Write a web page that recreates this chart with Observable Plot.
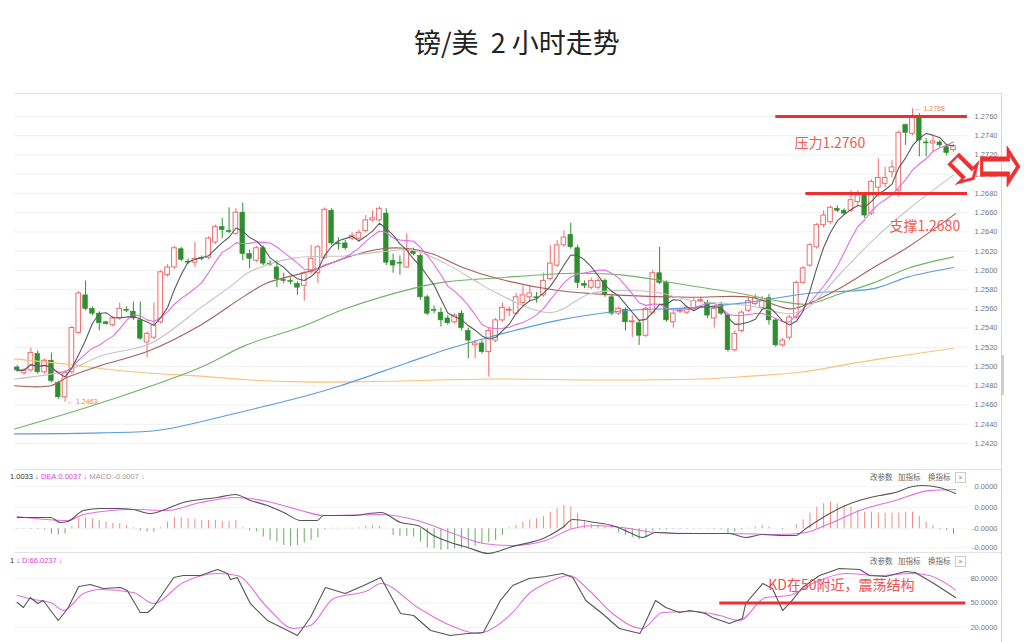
<!DOCTYPE html>
<html><head><meta charset="utf-8">
<script src="https://cdn.jsdelivr.net/npm/d3@7"></script>
<script src="https://cdn.jsdelivr.net/npm/@observablehq/plot@0.6"></script>
<style>
body{margin:0;background:#fff;}
#wrap{position:relative;width:1024px;height:642px;overflow:hidden;background:#fff;font-family:"Liberation Sans","Noto Sans CJK SC",sans-serif;}
.abs{position:absolute;}
.hline{position:absolute;height:1px;background:#e2e2e2;}
.hdr{position:absolute;font-size:7.5px;white-space:pre;line-height:10px;}
.btn{position:absolute;font-size:7.5px;color:#666;line-height:10px;font-family:"Noto Sans CJK SC",sans-serif;}
.xbox{position:absolute;width:9px;height:9px;border:1px solid #ccc;font-size:7px;line-height:9px;text-align:center;color:#888;}
#title{position:absolute;left:414px;top:26px;font-size:27px;line-height:32px;color:#222;white-space:pre;font-family:"Noto Sans CJK SC",sans-serif;}
</style></head>
<body><div id="wrap">
<div id="title">镑/美  2 小时走势</div>
<div class="hline" style="left:14px;width:988px;top:93px;"></div>
<div class="hline" style="left:14px;width:988px;top:469px;"></div>
<div class="hline" style="left:14px;width:988px;top:552px;"></div>
<div class="abs" style="left:1001px;top:93px;width:1px;height:549px;background:#d5d5d5;"></div>
<div class="abs" style="left:1001px;top:355px;width:3px;height:40px;background:#ccc;"></div>
<div id="p1" class="abs" style="left:0;top:88px;"></div>
<div id="p2" class="abs" style="left:0;top:470px;"></div>
<div id="p3" class="abs" style="left:0;top:552px;"></div>
<div class="hdr" style="left:10px;top:472px;"><span style="color:#333">1.0033</span> <span style="color:#555">↓</span> <span style="color:#e040e0">DEA:0.0037 ↓</span> <span style="color:#999">MACD:-0.0007 ↓</span></div>
<div class="hdr" style="left:10px;top:556px;"><span style="color:#333">1</span> <span style="color:#555">↓</span> <span style="color:#e040e0">D:66.0237 ↓</span></div>
<div class="btn" style="left:870px;top:472px;">改参数</div>
<div class="btn" style="left:898px;top:472px;">加指标</div>
<div class="btn" style="left:928px;top:472px;">换指标</div>
<div class="xbox" style="left:955px;top:472px;">×</div>
<div class="btn" style="left:870px;top:556px;">改参数</div>
<div class="btn" style="left:898px;top:556px;">加指标</div>
<div class="btn" style="left:928px;top:556px;">换指标</div>
<div class="xbox" style="left:955px;top:556px;">×</div>
</div>
<script>
// ---------- candle data (2h bars) ----------
const open = [
1.2499,1.2493,1.2496,1.2513,1.2494,1.2506,1.2483,1.2468,1.2494,1.2535,
1.2574,1.2560,1.2555,1.2546,1.2543,1.2550,1.2559,1.2557,1.2548,1.2525,
1.2530,1.2546,1.2595,1.2603,1.2622,1.2609,1.2608,1.2613,1.2613,1.2629,
1.2645,1.2641,1.2638,1.2660,1.2617,1.2610,1.2623,1.2607,1.2603,1.2590,
1.2589,1.2586,1.2584,1.2598,1.2597,1.2613,1.2662,1.2628,1.2628,1.2633,
1.2633,1.2641,1.2652,1.2652,1.2659,1.2610,1.2608,1.2603,1.2620,1.2615,
1.2572,1.2559,1.2556,1.2550,1.2546,1.2555,1.2537,1.2522,1.2524,1.2515,
1.2527,1.2548,1.2558,1.2555,1.2566,1.2572,1.2572,1.2574,1.2591,1.2605,
1.2626,1.2637,1.2623,1.2586,1.2582,1.2582,1.2589,1.2572,1.2555,1.2559,
1.2546,1.2545,1.2532,1.2556,1.2597,1.2587,1.2546,1.2557,1.2556,1.2560,
1.2568,1.2566,1.2550,1.2564,1.2553,1.2517,1.2537,1.2558,1.2565,1.2561,
1.2571,1.2548,1.2522,1.2530,1.2551,1.2587,1.2605,1.2624,1.2647,1.2650,
1.2664,1.2662,1.2662,1.2671,1.2678,1.2659,1.2686,1.2690,1.2702,1.2683,
1.2751,1.2742,1.2758,1.2733,1.2732,1.2733,1.2728,1.2725];
const high = [
1.2501,1.2498,1.2519,1.2516,1.2508,1.2514,1.2485,1.2496,1.2542,1.2578,
1.2589,1.2562,1.2557,1.2547,1.2552,1.2566,1.2562,1.2567,1.2567,1.2536,
1.2566,1.2600,1.2606,1.2625,1.2624,1.2612,1.2629,1.2615,1.2635,1.2647,
1.2654,1.2665,1.2664,1.2670,1.2621,1.2625,1.2625,1.2610,1.2610,1.2597,
1.2592,1.2588,1.2599,1.2626,1.2626,1.2665,1.2664,1.2634,1.2631,1.2639,
1.2642,1.2657,1.2662,1.2666,1.2664,1.2617,1.2615,1.2638,1.2623,1.2617,
1.2574,1.2563,1.2561,1.2553,1.2555,1.2558,1.2540,1.2527,1.2527,1.2540,
1.2550,1.2566,1.2562,1.2576,1.2584,1.2584,1.2577,1.2597,1.2626,1.2631,
1.2641,1.2649,1.2626,1.2589,1.2592,1.2592,1.2591,1.2574,1.2562,1.2561,
1.2553,1.2548,1.2562,1.2600,1.2624,1.2589,1.2557,1.2560,1.2563,1.2571,
1.2572,1.2569,1.2563,1.2567,1.2555,1.2537,1.2558,1.2572,1.2575,1.2573,
1.2575,1.2550,1.2529,1.2553,1.2589,1.2604,1.2628,1.2649,1.2662,1.2667,
1.2667,1.2664,1.2683,1.2683,1.2681,1.2694,1.2716,1.2707,1.2714,1.2745,
1.2752,1.2768,1.2763,1.2737,1.2740,1.2735,1.2731,1.2731];
const low = [
1.2494,1.2491,1.2494,1.2492,1.2492,1.2483,1.2466,1.2463,1.2492,1.2533,
1.2558,1.2553,1.2537,1.2543,1.2541,1.2548,1.2556,1.2548,1.2527,1.2509,
1.2528,1.2544,1.2593,1.2601,1.2609,1.2606,1.2603,1.2610,1.2611,1.2627,
1.2633,1.2638,1.2636,1.2610,1.2602,1.2608,1.2605,1.2604,1.2582,1.2586,
1.2585,1.2574,1.2568,1.2596,1.2586,1.2611,1.2626,1.2621,1.2621,1.2631,
1.2629,1.2639,1.2650,1.2650,1.2605,1.2597,1.2595,1.2602,1.2615,1.2569,
1.2553,1.2555,1.2541,1.2543,1.2544,1.2537,1.2508,1.2508,1.2513,1.2489,
1.2525,1.2546,1.2552,1.2553,1.2563,1.2567,1.2566,1.2572,1.2589,1.2603,
1.2624,1.2622,1.2581,1.2581,1.2580,1.2580,1.2572,1.2553,1.2553,1.2537,
1.2530,1.2522,1.2530,1.2554,1.2585,1.2546,1.2540,1.2555,1.2554,1.2558,
1.2566,1.2550,1.2540,1.2553,1.2515,1.2515,1.2535,1.2556,1.2563,1.2559,
1.2543,1.2520,1.2520,1.2527,1.2549,1.2585,1.2603,1.2622,1.2644,1.2648,
1.2660,1.2657,1.2660,1.2667,1.2654,1.2657,1.2676,1.2686,1.2696,1.2676,
1.2730,1.2740,1.2718,1.2718,1.2723,1.2727,1.2719,1.2723];
const close = [
1.2496,1.2496,1.2514,1.2494,1.2506,1.2485,1.2468,1.2493,1.2540,1.2576,
1.2560,1.2555,1.2545,1.2544,1.2550,1.2560,1.2558,1.2550,1.2529,1.2534,
1.2543,1.2598,1.2603,1.2623,1.2611,1.2608,1.2612,1.2612,1.2633,1.2645,
1.2642,1.2640,1.2660,1.2617,1.2612,1.2623,1.2607,1.2606,1.2591,1.2589,
1.2588,1.2582,1.2597,1.2612,1.2624,1.2663,1.2628,1.2627,1.2623,1.2636,
1.2639,1.2652,1.2654,1.2664,1.2608,1.2605,1.2607,1.2621,1.2617,1.2572,
1.2555,1.2558,1.2548,1.2545,1.2553,1.2540,1.2527,1.2524,1.2515,1.2537,
1.2548,1.2561,1.2559,1.2572,1.2574,1.2576,1.2571,1.2589,1.2607,1.2626,
1.2634,1.2624,1.2587,1.2584,1.2589,1.2589,1.2574,1.2555,1.2560,1.2546,
1.2547,1.2532,1.2560,1.2597,1.2587,1.2548,1.2555,1.2558,1.2561,1.2568,
1.2569,1.2553,1.2560,1.2555,1.2517,1.2534,1.2556,1.2568,1.2571,1.2568,
1.2548,1.2522,1.2527,1.2551,1.2587,1.2602,1.2626,1.2647,1.2657,1.2665,
1.2662,1.2659,1.2673,1.2678,1.2657,1.2692,1.2696,1.2696,1.2707,1.2743,
1.2743,1.2759,1.2735,1.2732,1.2734,1.2730,1.2722,1.2729];

// ---------- moving averages (bar index, price) ----------
const ma20I = [-0.4,7.4,12.2,19.5,26.8,31.7,33.9,40.7,48.0,52.9,57.8,62.7,67.5,70.0,78.0,83.9,88.7,93.7,98.5,107.3,113.2,115.6,120.5,125.3,130.3,137.0];
const ma20V = [1.2487,1.2496,1.2511,1.2524,1.2561,1.2586,1.2598,1.2613,1.2615,1.2619,1.2621,1.2607,1.2587,1.2577,1.2556,1.2576,1.2579,1.2577,1.2569,1.2563,1.2555,1.2561,1.2597,1.2632,1.2663,1.2699];
const ma30I = [-0.4,4.9,7.4,12.2,19.5,26.8,33.4,36.6,43.2,48.0,52.9,56.8,60.8,65.2,70.0,79.1,88.7,98.5,107.3,113.2,115.6,120.5,125.3,130.3,137.3];
const ma30V = [1.2480,1.2480,1.2489,1.2501,1.2517,1.2543,1.2574,1.2587,1.2600,1.2613,1.2622,1.2623,1.2617,1.2603,1.2592,1.2579,1.2574,1.2572,1.2572,1.2560,1.2565,1.2582,1.2603,1.2624,1.2659];
const ma60I = [-0.4,12.2,26.8,33.4,41.5,48.0,57.8,62.7,70.0,81.4,88.7,98.5,105.8,110.7,115.6,120.5,125.3,130.3,137.0];
const ma60V = [1.2435,1.2462,1.2499,1.2522,1.2541,1.2560,1.2581,1.2588,1.2592,1.2597,1.2595,1.2584,1.2576,1.2569,1.2565,1.2576,1.2587,1.2602,1.2614];
const ma120I = [-0.4,12.2,21.0,31.7,41.5,47.3,57.1,63.4,69.3,79.1,88.7,98.5,107.3,115.6,125.3,130.3,137.0];
const ma120V = [1.2430,1.2431,1.2434,1.2451,1.2468,1.2480,1.2504,1.2519,1.2531,1.2548,1.2558,1.2561,1.2567,1.2576,1.2581,1.2593,1.2603];
const ma250I = [-0.4,7.8,12.2,19.5,26.8,34.1,41.5,48.8,56.1,69.3,85.4,100.0,107.3,114.6,122.0,126.3,137.0];
const ma250V = [1.2508,1.2502,1.2498,1.2493,1.2490,1.2486,1.2484,1.2484,1.2485,1.2487,1.2486,1.2487,1.2490,1.2494,1.2503,1.2508,1.2519];

// ---------- MACD ----------
const macdHist = [
-0.00003,-0.00003,-0.00005,-0.00005,-0.0001,-0.0005,-0.0006,-0.0005,0.0002,0.00094,
0.00104,0.00094,0.00079,0.00063,0.00053,0.00047,0.0003,0.0001,-0.0002,-0.0003,
-0.0003,0.0001,0.00063,0.00104,0.00104,0.00094,0.00085,0.00079,0.00079,0.00079,
0.0007,0.0007,0.00079,0.0001,-0.0002,-0.0003,-0.00079,-0.0011,-0.00126,-0.00157,
-0.00167,-0.00157,-0.00135,-0.0011,-0.00085,-0.0001,0.00005,0.00005,0.00005,0.00005,
0.0001,0.00022,0.0003,0.00022,0.00005,-0.00063,-0.00072,-0.00072,-0.00079,-0.00126,
-0.0018,-0.00189,-0.00204,-0.00198,-0.00189,-0.00189,-0.0018,-0.00167,-0.00141,-0.00126,
-0.0011,-0.00063,0.0001,0.0003,0.00063,0.00085,0.00094,0.00116,0.00157,0.00188,
0.0022,0.00204,0.00148,0.00079,0.0004,0.0003,0.00022,0.00016,-0.0004,-0.00063,
-0.00085,-0.00104,-0.00079,-0.00022,-0.0001,-0.0001,-0.00006,-0.00005,-0.00005,-0.00003,
-0.00003,-0.00003,-0.00005,-0.0001,-0.00053,-0.0003,-0.0001,0.00006,0.00016,0.0003,
0.00016,0,-0.0001,0,0.0004,0.00085,0.00148,0.00204,0.00236,0.00251,
0.00236,0.0022,0.00204,0.00173,0.00157,0.00157,0.00148,0.00148,0.00148,0.00148,
0.00157,0.00157,0.00116,0.00063,0.0003,-0.0001,-0.00016,-0.00053];
const difI = [0,4.9,6.3,7.4,9.7,12.2,14.7,17.0,19.5,22.0,24.3,26.8,29.3,31.9,34.1,36.6,39.0,41.5,43.9,44.8,48.8,53.2,56.1,58.6,60.9,63.4,65.9,68.9,72.5,77.3,79.8,81.3,84.6,87.1,89.6,91.5,93.4,96.9,99.3,104.2,106.6,109.1,111.6,113.9,115.4,118.9,121.2,123.7,126.2,128.5,131.0,132.5,134.9,137.3];
const difV = [0.00107,0.00107,0.00059,0.00069,0.00173,0.00192,0.00192,0.00182,0.00144,0.00192,0.00248,0.00276,0.00295,0.00324,0.00267,0.0022,0.00154,0.00078,0.00078,0.00125,0.00125,0.00154,0.00059,0.00031,-0.00063,-0.00129,-0.00176,-0.00233,-0.00167,-0.00082,0.00012,0.00088,0.00059,0.00031,-0.00035,-0.00082,-0.00035,-0.00044,-0.00044,-0.00044,-0.00082,-0.00054,-0.00063,-0.00063,0.00003,0.00144,0.0022,0.00276,0.00314,0.00342,0.00399,0.00408,0.0039,0.00333];
const deaI = [0,7.4,9.7,17.0,22.0,26.8,32.2,36.6,41.5,44.8,53.2,58.6,63.4,68.2,72.5,77.3,81.3,84.6,89.6,93.4,99.3,104.2,111.6,115.4,118.9,123.7,128.5,133.5,137.3];
const deaV = [0.00116,0.00078,0.00135,0.00182,0.00173,0.00248,0.00295,0.00258,0.00173,0.00125,0.00135,0.00078,-0.00035,-0.00139,-0.00158,-0.0011,0.00003,0.00031,0.00003,-0.00035,-0.00044,-0.00044,-0.00054,-0.00035,0.0005,0.00182,0.00267,0.0036,0.0037];

// ---------- KD ----------
const kI = [0,0.9,1.9,3.0,3.8,6.0,7.4,9.0,10.7,12.6,15.1,16.1,18.0,19.1,19.9,22.9,24.3,26.8,29.3,30.8,31.2,32.2,34.1,36.6,39.0,41.0,42.9,45.1,48.0,50.7,53.2,56.1,58.0,60.5,63.4,65.9,68.2,70.7,72.5,74.9,77.3,79.8,81.3,83.2,85.6,88.1,91.1,91.5,93.4,94.9,96.9,98.4,100.7,101.7,104.2,106.1,106.6,109.1,110.5,112.0,113.4,114.9,117.4,120.3,123.3,124.7,127.1,130.0,131.4,133.9,137.3];
const kV = [50.6,44.5,56.7,49.4,53.1,28.6,43.3,70.2,72.6,67.7,69.0,65.3,38.4,38.4,44.5,81.2,83.7,83.7,91.0,86.1,78.8,81.2,49.4,28.6,18.8,10.2,32.3,69.0,61.6,71.4,81.2,37.1,34.7,16.3,10.2,12.7,13.9,53.1,71.4,80.0,82.4,86.1,81.2,53.1,37.1,18.8,12.7,18.8,53.1,44.5,38.4,40.8,37.1,32.3,24.9,31.0,49.4,73.9,67.7,40.8,53.1,69.0,83.7,92.2,91.0,83.7,82.4,88.6,87.3,75.1,56.7];
const dI = [0,2.4,4.9,6.8,9.7,12.2,17.0,19.9,24.3,29.3,32.2,36.6,40.4,42.9,46.3,51.3,53.2,58.6,63.4,67.3,72.5,74.9,77.3,80.8,83.7,87.1,91.5,94.4,99.3,102.8,105.7,109.5,113.0,116.4,121.2,126.2,130.9,133.5,137.3];
const dV = [59.2,54.3,50.6,40.8,61.6,66.5,62.9,49.4,75.1,86.1,83.7,44.5,18.8,22.5,55.5,65.3,73.9,44.5,22.5,12.7,38.4,61.6,73.9,83.7,65.3,37.1,18.8,38.4,39.6,34.7,28.6,56.7,59.2,73.9,86.1,83.7,86.1,83.7,66.0];

// ---------- axes ----------
const priceTicks = [1.2420,1.2440,1.2460,1.2480,1.2500,1.2520,1.2540,1.2560,1.2580,1.2600,1.2620,1.2640,1.2660,1.2680,1.2700,1.2720,1.2740,1.2760];
const macdTicks = [0.004,0.002,0,-0.0018];
const macdTickLabels = ["0.0000","0.0000","-0.0000","-0.0000"];
const kdTicks = [80,50,20];
const kdTickLabels = ["80.0000","50.0000","20.0000"];

// ---------- annotations ----------
const levelPrice = [1.2760, 1.2680];
const levelStart = [111.0, 115.4];
const noteText = ["压力1.2760", "支撑1.2680"];
const noteI = [118.9, 132.8];
const noteV = [1.27319, 1.26456];
const extremeI = [131, 7];
const extremeV = [1.2768, 1.2463];
const extremeText = ["← 1.2768", "← 1.2463"];
const arrowI = [138.8, 143.9];
const arrowV = [1.2706, 1.2710];
const arrowRotate = [45, 0];
const arrowScale = [[1.15, 2.0], [1.55, 2.4]];
const kdLine = {v: 50, from: 102.8, to: 138.8};
const kdNote = {i: 120.6, v: 71.4, text: "KD在50附近，震荡结构"};

// ---------- build ----------
const RED = "#f06b6b", GREEN = "#2f8f2f", LRED = "#ef2f2f";
const hw = 0.34;
const cd = open.map((o, i) => ({i, o, h: high[i], l: low[i], c: close[i]}));
const upC = cd.filter(d => d.c >= d.o), dnC = cd.filter(d => d.c < d.o);
const pts = (I, V) => I.map((i, k) => ({i, v: V[k]}));
const XR = 139.05;
const common = {
  width: 1024, marginLeft: 14, marginRight: 57,
  x: {type: "linear", domain: [-0.4, XR], axis: null},
  style: {background: "transparent", fontFamily: "Liberation Sans, sans-serif", overflow: "visible"}
};
const tickText = (ticks, labels) => Plot.text(ticks, {y: d => d, text: (d, i) => labels[i], frameAnchor: "right", dx: 30, textAnchor: "end", fontSize: 7.5, fill: "#777", fontFamily: "Liberation Sans"});

const levels = levelPrice.map((v, k) => ({v, from: levelStart[k], to: XR}));
const notes = noteText.map((t, k) => ({t, i: noteI[k], v: noteV[k]}));
const extremes = extremeText.map((t, k) => ({t, i: extremeI[k], v: extremeV[k]}));
const arrows = arrowI.map((i, k) => ({i, v: arrowV[k]}));

const main = Plot.plot({
  ...common, height: 387, marginTop: 5, marginBottom: 5,
  y: {domain: [1.23919, 1.27839], axis: null},
  marks: [
    Plot.ruleY(priceTicks, {stroke: "#efefef"}),
    tickText(priceTicks, priceTicks.map(d => d.toFixed(4))),
    Plot.ruleX(dnC, {x: "i", y1: "l", y2: "h", stroke: GREEN}),
    Plot.ruleX(upC, {x: "i", y1: "l", y2: "h", stroke: RED}),
    Plot.rect(dnC, {x1: d => d.i - hw, x2: d => d.i + hw, y1: "o", y2: "c", fill: GREEN, stroke: GREEN, strokeWidth: 0.6}),
    Plot.rect(upC, {x1: d => d.i - hw, x2: d => d.i + hw, y1: "o", y2: "c", fill: "white", stroke: RED, strokeWidth: 1}),
    Plot.line(pts(ma250I, ma250V), {x: "i", y: "v", stroke: "#f8c27a", strokeWidth: 1.1, curve: "catmull-rom"}),
    Plot.line(pts(ma120I, ma120V), {x: "i", y: "v", stroke: "#5b9be0", strokeWidth: 1.1, curve: "catmull-rom"}),
    Plot.line(pts(ma60I, ma60V), {x: "i", y: "v", stroke: "#72b267", strokeWidth: 1.1, curve: "catmull-rom"}),
    Plot.line(pts(ma30I, ma30V), {x: "i", y: "v", stroke: "#a9605a", strokeWidth: 1.1, curve: "catmull-rom"}),
    Plot.line(pts(ma20I, ma20V), {x: "i", y: "v", stroke: "#c4c4c4", strokeWidth: 1.1, curve: "catmull-rom"}),
    Plot.line(cd, Plot.windowY({k: 10, anchor: "end", reduce: "mean", strict: false}, {x: "i", y: "c", stroke: "#e36de3", strokeWidth: 1.1})),
    Plot.line(cd, Plot.windowY({k: 5, anchor: "end", reduce: "mean", strict: false}, {x: "i", y: "c", stroke: "#5a5a5a", strokeWidth: 1.1})),
    Plot.text(extremes, {x: "i", y: "v", text: "t", textAnchor: "start", dx: 2, fontSize: 7, fill: "#e8883a"}),
    Plot.ruleY(levels, {y: "v", x1: "from", x2: "to", stroke: LRED, strokeWidth: 3}),
    Plot.text(notes, {x: "i", y: "v", text: "t", fontSize: 14, fill: "#ee5b52", fontFamily: "Noto Sans CJK SC"}),
    Plot.text(arrows, {x: "i", y: "v", text: () => "⇨", fontSize: 34, fill: LRED, stroke: LRED, strokeWidth: 0.4, fontFamily: "DejaVu Sans"})
  ]
});
document.getElementById("p1").appendChild(main);

// fatten / turn the hollow arrow glyphs about their own centre (in parent coordinates)
d3.select(main).selectAll("text").filter(function() { return this.textContent === "⇨"; }).each(function(_, k) {
  const b = this.getBBox();
  let cx = b.x + b.width / 2, cy = b.y + b.height / 2;
  const m = this.transform && this.transform.baseVal.numberOfItems ? this.transform.baseVal.consolidate().matrix : null;
  if (m) { const px = m.a * cx + m.c * cy + m.e, py = m.b * cx + m.d * cy + m.f; cx = px; cy = py; }
  const g = document.createElementNS("http://www.w3.org/2000/svg", "g");
  this.parentNode.insertBefore(g, this);
  g.appendChild(this);
  const [sx, sy] = arrowScale[k];
  g.setAttribute("transform", `translate(${cx},${cy}) rotate(${arrowRotate[k]}) scale(${sx},${sy}) translate(${-cx},${-cy})`);
});

const hist = macdHist.map((v, i) => ({i, v}));
const macdP = Plot.plot({
  ...common, height: 82, marginTop: 0, marginBottom: 0,
  y: {domain: [-0.00224, 0.0055], axis: null},
  marks: [
    Plot.ruleY(macdTicks, {stroke: "#f4f4f4"}),
    tickText(macdTicks, macdTickLabels),
    Plot.ruleX(hist.filter(d => d.v >= 0), {x: "i", y1: 0, y2: "v", stroke: "#f08a8a"}),
    Plot.ruleX(hist.filter(d => d.v < 0), {x: "i", y1: 0, y2: "v", stroke: "#6aaa6a"}),
    Plot.line(pts(deaI, deaV), {x: "i", y: "v", stroke: "#e36de3", strokeWidth: 1.1, curve: "monotone-x"}),
    Plot.line(pts(difI, difV), {x: "i", y: "v", stroke: "#555", strokeWidth: 1.1, curve: "monotone-x"})
  ]
});
document.getElementById("p2").appendChild(macdP);

const kdP = Plot.plot({
  ...common, height: 90, marginTop: 0, marginBottom: 0,
  y: {domain: [1.65, 111.8], axis: null},
  marks: [
    Plot.ruleY(kdTicks, {stroke: "#f4f4f4"}),
    tickText(kdTicks, kdTickLabels),
    Plot.line(pts(dI, dV), {x: "i", y: "v", stroke: "#e36de3", strokeWidth: 1.1, curve: "monotone-x"}),
    Plot.line(pts(kI, kV), {x: "i", y: "v", stroke: "#555", strokeWidth: 1.1}),
    Plot.ruleY([kdLine], {y: "v", x1: "from", x2: "to", stroke: LRED, strokeWidth: 3}),
    Plot.text([kdNote], {x: "i", y: "v", text: "text", fontSize: 14, fill: "#f05050", fontFamily: "Noto Sans CJK SC"})
  ]
});
document.getElementById("p3").appendChild(kdP);
</script>
</body></html>
